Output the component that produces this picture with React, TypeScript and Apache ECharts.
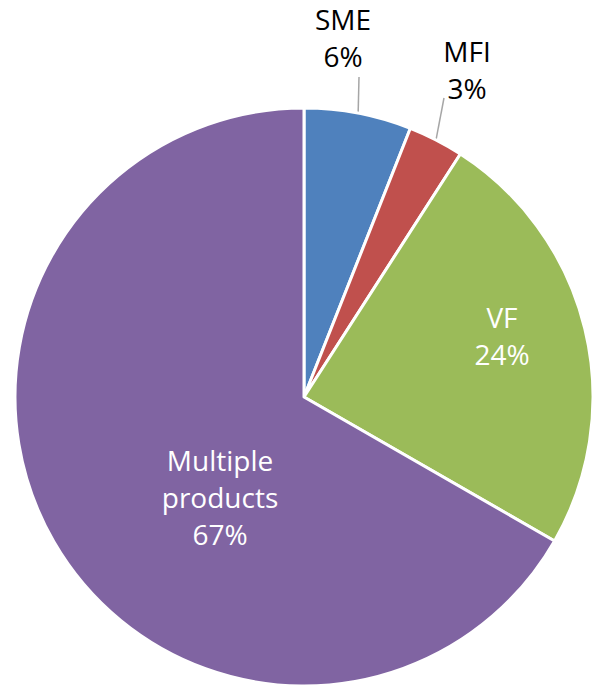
import React, { useEffect, useRef } from "react";
import * as echarts from "echarts";

const categories = ["SME", "MFI", "VF", "Multiple products"];
const values = [6, 3.1, 24.2, 66.7];
const colors = ["#4F81BD", "#C0504D", "#9BBB59", "#8064A2"];
const labelNames = ["SME", "MFI", "VF", "Multiple\nproducts"];
const insideFlags = [false, false, true, true];

// label anchor positions (text block centres) in px
const labelPos: [number, number][] = [
  [343, 37],
  [467, 69],
  [502, 335],
  [220, 497],
];
const lineEnds: [number, number][] = [
  [359, 77],
  [444, 98],
  [0, 0],
  [0, 0],
];

export default function App() {
  const ref = useRef<HTMLDivElement>(null);
  useEffect(() => {
    if (!ref.current) return;
    const chart = echarts.init(ref.current, undefined, { renderer: "svg" });
    chart.setOption({
      animation: false,
      backgroundColor: "#ffffff",
      series: [
        {
          type: "pie",
          center: [304, 397],
          radius: 289,
          startAngle: 90,
          clockwise: true,
          avoidLabelOverlap: false,
          itemStyle: { borderColor: "#ffffff", borderWidth: 3 },
          data: categories.map((c, i) => ({
            name: c,
            value: values[i],
            itemStyle: { color: colors[i] },
            label: {
              show: true,
              position: insideFlags[i] ? "inside" : "outside",
              color: insideFlags[i] ? "#ffffff" : "#000000",
              formatter: () => labelNames[i] + "\n" + Math.round(values[i]) + "%",
            },
            labelLine: {
              show: !insideFlags[i],
              length: 20,
              length2: 0,
              lineStyle: { color: "#A6A6A6", width: 1.5 },
            },
          })),
          label: {
            fontFamily: "Open Sans",
            fontSize: 28,
            lineHeight: 37,
            align: "center",
          },
          labelLayout: (params: any) => {
            const i = params.dataIndex;
            const res: any = {
              x: labelPos[i][0],
              y: labelPos[i][1],
              align: "center",
              verticalAlign: "middle",
            };
            if (!insideFlags[i] && params.labelLinePoints) {
              const start = params.labelLinePoints[0];
              res.labelLinePoints = [start, lineEnds[i], lineEnds[i]];
            }
            return res;
          },
        },
      ],
    });
    return () => chart.dispose();
  }, []);
  return (
    <div
      ref={ref}
      style={{ position: "absolute", left: 0, top: 0, width: 596, height: 685 }}
    />
  );
}
